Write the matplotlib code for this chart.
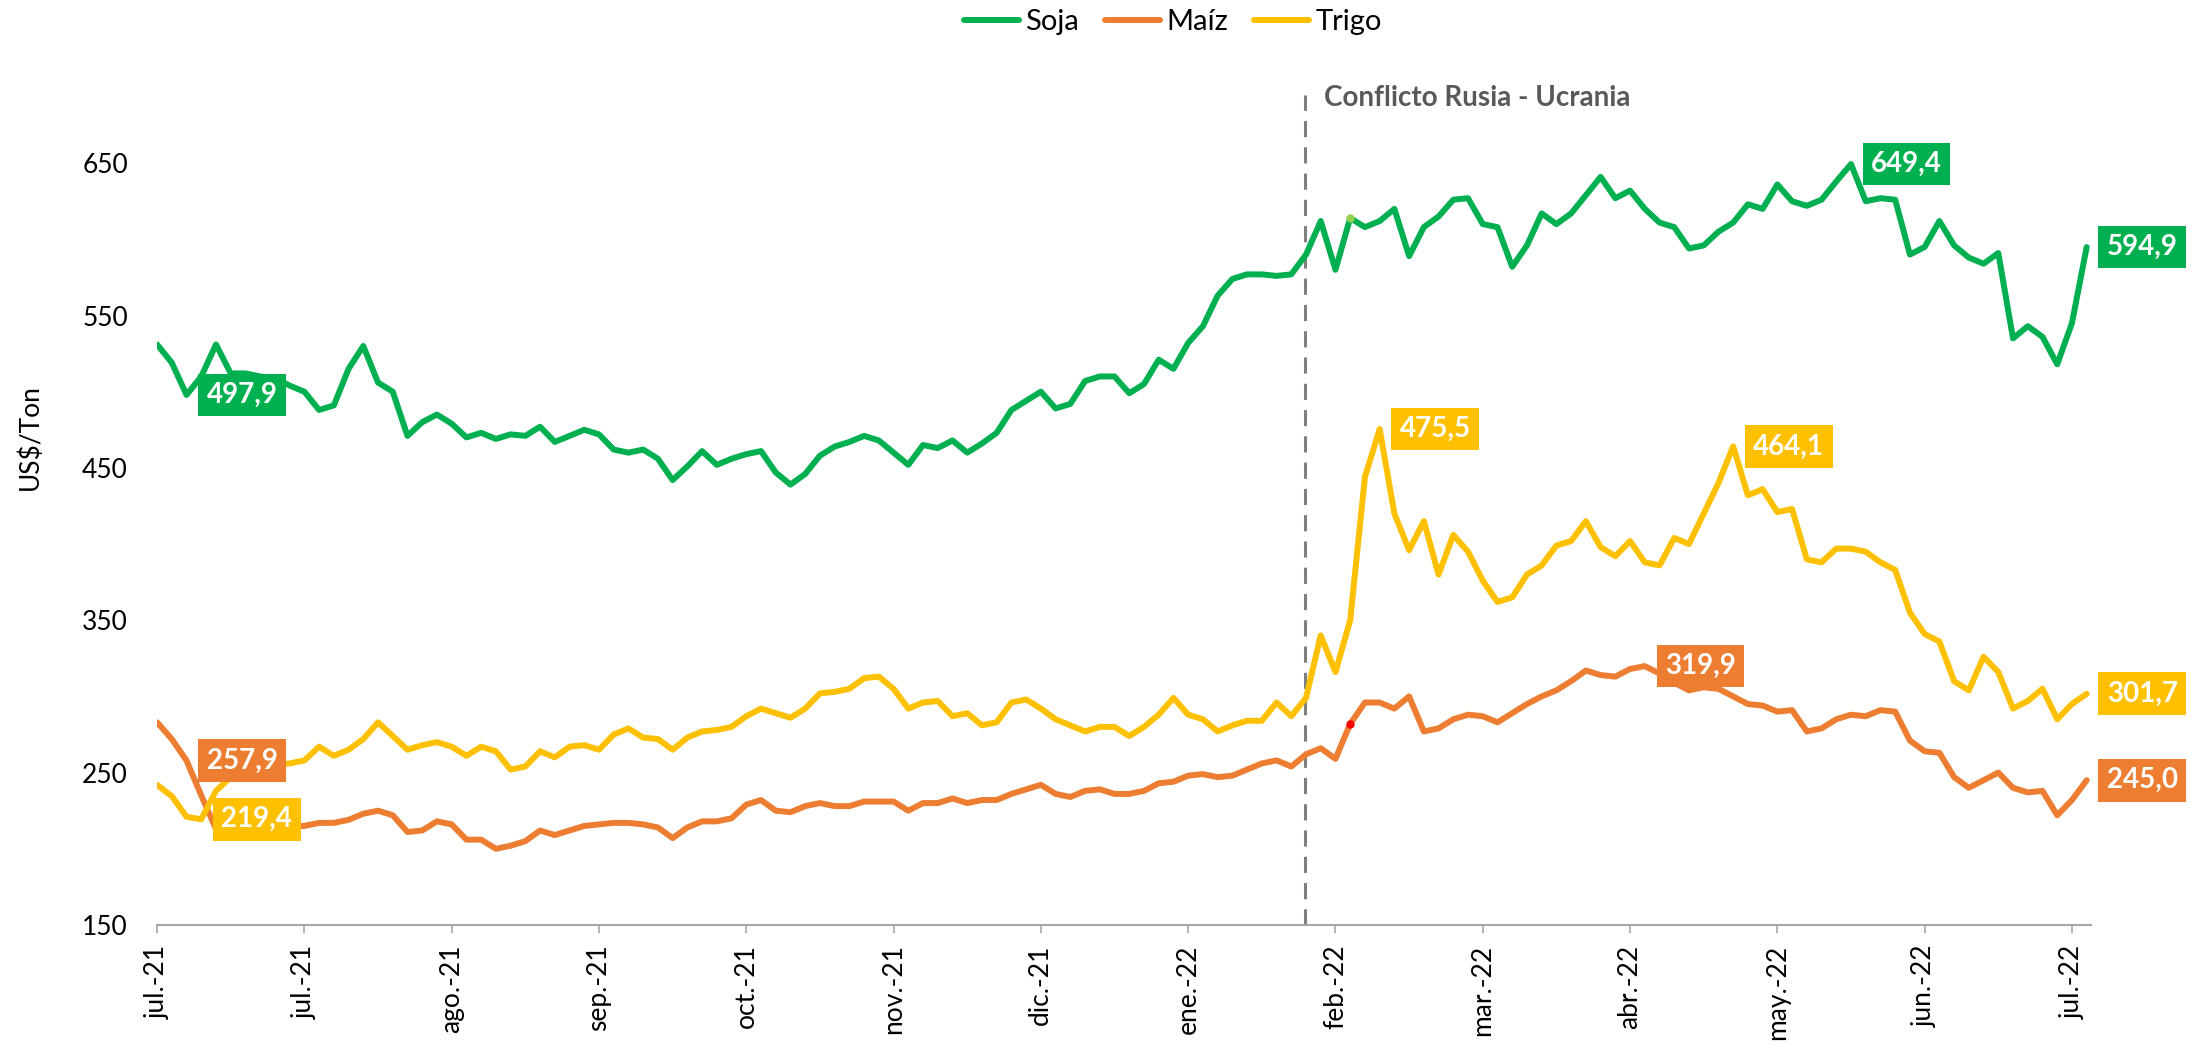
import matplotlib.pyplot as plt

plt.rcParams['font.family'] = ['Lato', 'DejaVu Sans']

# precios diarios US$/Ton
soja = [531, 519, 497.9, 510, 531, 512, 512, 510, 509, 504,
        500, 488, 491, 515, 530, 506, 500, 471, 480, 485,
        479, 470, 473, 469, 472, 471, 477, 467, 471, 475,
        472, 462, 460, 462, 456, 442, 451, 461, 452, 456,
        459, 461, 447, 439, 446, 458, 464, 467, 471, 468,
        460, 452, 465, 463, 468, 460, 466, 473, 488, 494,
        500, 489, 492, 507, 510, 510, 499, 505, 521, 515,
        532, 543, 563, 574, 577, 577, 576, 577, 590, 612,
        580, 614, 608, 612, 620, 589, 608, 615, 626, 627,
        610, 608, 582, 596, 617, 610, 617, 629, 641, 627,
        632, 620, 611, 608, 594, 596, 605, 611, 623, 620,
        636, 625, 622, 626, 638, 649.4, 625, 627, 626, 590,
        595, 612, 596, 588, 584, 591, 535, 543, 536, 518,
        545, 594.9]

maiz = [283, 272, 257.9, 235, 213, 212, 215, 216, 216, 215,
        215, 217, 217, 219, 223, 225, 222, 211, 212, 218,
        216, 206, 206, 200, 202, 205, 212, 209, 212, 215,
        216, 217, 217, 216, 214, 207, 214, 218, 218, 220,
        229, 232, 225, 224, 228, 230, 228, 228, 231, 231,
        231, 225, 230, 230, 233, 230, 232, 232, 236, 239,
        242, 236, 234, 238, 239, 236, 236, 238, 243, 244,
        248, 249, 247, 248, 252, 256, 258, 254, 262, 266,
        259, 282, 296, 296, 292, 300, 277, 279, 285, 288,
        287, 283, 289, 295, 300, 304, 310, 317, 314, 313,
        318, 319.9, 315, 309, 304, 306, 305, 300, 295, 294,
        290, 291, 277, 279, 285, 288, 287, 291, 290, 271,
        264, 263, 247, 240, 245, 250, 240, 237, 238, 222,
        232, 245.0]

trigo = [242, 234.5, 221, 219.4, 238, 247, 250, 253, 255, 256,
         258, 267, 261, 265, 272, 283, 274, 265, 268, 270,
         267, 261, 267, 264, 252, 254, 264, 260, 267, 268,
         265, 275, 279, 273, 272, 265, 273, 277, 278, 280,
         287, 292, 289, 286, 292, 302, 303, 305, 312, 313,
         305, 292, 296, 297, 287, 289, 281, 283, 296, 298,
         292, 285, 281, 277, 280, 280, 274, 280, 288, 299,
         288, 285, 277, 281, 284, 284, 296, 287, 299, 340,
         316, 350, 444, 475.5, 420, 396, 415, 380, 406, 395,
         376, 362, 365, 380, 386, 399, 402, 415, 398, 392,
         402, 388, 386, 404, 400, 420, 440, 464.1, 432, 436,
         421, 423, 390, 388, 397, 397, 395, 388, 383, 355,
         341, 336, 310, 304, 326, 316, 292, 297, 305, 285,
         295, 301.7]

tick_labels = ['jul.-21', 'jul.-21', 'ago.-21', 'sep.-21', 'oct.-21', 'nov.-21',
               'dic.-21', 'ene.-22', 'feb.-22', 'mar.-22', 'abr.-22', 'may.-22',
               'jun.-22', 'jul.-22']
tick_pos = list(range(0, 131, 10))

# puntos con etiqueta
soja_tags = [2, 115, 131]
maiz_tags = [2, 101, 131]
trigo_tags = [3, 83, 107, 131]
marca_dia = 81          # punto resaltado
conflicto = 77.9        # inicio conflicto

c_soja = '#00B050'
c_maiz = '#ED7D31'
c_trigo = '#FFC000'

fig = plt.figure(figsize=(22, 10.53), dpi=100)
ax = fig.add_axes([0.0714, 0.1216, 0.8791, 0.7958])

x = list(range(len(soja)))
lw = 4.3
l1, = ax.plot(x, soja, color=c_soja, lw=lw, solid_joinstyle='round', solid_capstyle='round', zorder=3)
l2, = ax.plot(x, maiz, color=c_maiz, lw=lw, solid_joinstyle='round', solid_capstyle='round', zorder=3)
l3, = ax.plot(x, trigo, color=c_trigo, lw=lw, solid_joinstyle='round', solid_capstyle='round', zorder=3)

ax.plot(marca_dia, soja[marca_dia], 'o', color='#92D050', ms=5, zorder=4)
ax.plot(marca_dia, maiz[marca_dia], 'o', color='#FF0000', ms=5, zorder=4)

ax.set_xlim(0, 131.3)
ax.set_ylim(150, 700)

ax.axvline(conflicto, ymin=0, ymax=(695 - 150) / 550, color='#7F7F7F', lw=2.2,
           ls=(0, (5.3, 3.3)), zorder=2)
ax.text(79.2, 692.7, 'Conflicto Rusia - Ucrania', ha='left', va='center',
        fontsize=20, fontweight='bold', color='#595959')


def etiqueta(serie, idx, color):
    txt = ('%.1f' % serie[idx]).replace('.', ',')
    ax.annotate(txt, (idx, serie[idx]), xytext=(14.5, 0), textcoords='offset points',
                ha='left', va='center', fontsize=20, fontweight='bold', color='white',
                bbox=dict(boxstyle='square,pad=0.3', fc=color, ec='none'), zorder=6,
                annotation_clip=False)


for i in soja_tags:
    etiqueta(soja, i, c_soja)
for i in maiz_tags:
    etiqueta(maiz, i, c_maiz)
for i in trigo_tags:
    etiqueta(trigo, i, c_trigo)

for s in ['left', 'top', 'right']:
    ax.spines[s].set_visible(False)
ax.spines['bottom'].set_color('#A6A6A6')
ax.spines['bottom'].set_linewidth(1.5)

ax.set_yticks([150, 250, 350, 450, 550, 650])
ax.tick_params(axis='y', length=0, pad=21, labelsize=19)
ax.set_xticks(tick_pos)
ax.set_xticklabels(tick_labels, rotation=90)
ax.tick_params(axis='x', length=6, width=1.2, color='#A6A6A6', pad=8, labelsize=19)

fig.text(0.0136, 0.585, 'US$/Ton', rotation=90, ha='center', va='center', fontsize=19)

fig.legend([l1, l2, l3], ['Soja', 'Maíz', 'Trigo'], loc='center',
           bbox_to_anchor=(0.533, 0.979), ncol=3, frameon=False, fontsize=21,
           handlelength=1.9, handletextpad=0.2, columnspacing=0.9)

fig.savefig('out.png', dpi=100)
